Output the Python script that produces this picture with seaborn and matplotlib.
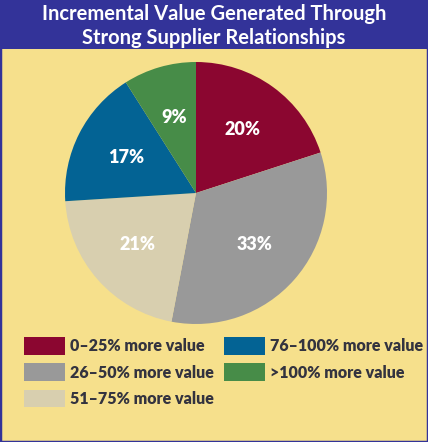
import numpy as np
import pandas as pd
import matplotlib
matplotlib.use("Agg")
import matplotlib.pyplot as plt
import seaborn as sns
from matplotlib.patches import Rectangle, Patch

# data
categories = ["0–25% more value", "26–50% more value", "51–75% more value",
              "76–100% more value", ">100% more value"]
shares = [20, 33, 21, 17, 9]
colors = ["#8B0630", "#999999", "#D8CFAF", "#036394", "#478C48"]
title = "Incremental Value Generated Through\nStrong Supplier Relationships"

sns.set_theme(style="white")
plt.rcParams['font.family'] = ['Lato', 'DejaVu Sans']

W, H = 428, 442
bg = "#F6E08C"
navy = "#333399"

fig = plt.figure(figsize=(W / 100, H / 100), dpi=100, facecolor=bg)

# title bar + frame
fig.patches.append(Rectangle((0, 1 - 49 / H), 1, 49 / H, transform=fig.transFigure,
                             facecolor=navy, edgecolor="none", zorder=0))
fig.patches.append(Rectangle((0, 0), 1, 1, transform=fig.transFigure,
                             facecolor="none", edgecolor=navy, linewidth=2.5, zorder=5))
fig.text(0.5, 1 - 26 / H, title, ha="center", va="center", color="white",
         fontsize=14.5, fontweight="bold", linespacing=1.2)

# pie
cx, cy, r = 196, 193, 131
ax = fig.add_axes([(cx - r) / W, (H - cy - r) / H, 2 * r / W, 2 * r / H])
df = pd.DataFrame({"category": categories, "share": shares})
wedges, texts, autotexts = ax.pie(df["share"], colors=colors, startangle=90,
                                  counterclock=False, radius=1,
                                  autopct=lambda p: f"{p:.0f}%", pctdistance=0.6,
                                  wedgeprops=dict(linewidth=0))
for t in autotexts:
    t.set_color("white")
    t.set_fontsize(13)
    t.set_fontweight("heavy")
ax.set_xlim(-1, 1)
ax.set_ylim(-1, 1)
ax.set_axis_off()

# legend
handles = [Patch(facecolor=c, edgecolor="none") for c in colors]
fig.legend(handles, categories, loc="upper left",
           bbox_to_anchor=(24 / W, 1 - 337 / H), ncol=2, frameon=False,
           handlelength=2.56, handleheight=1.31, handletextpad=0.31,
           labelspacing=0.56, columnspacing=0.65, borderpad=0, borderaxespad=0,
           prop=dict(weight="heavy", size=11.5))
for t in fig.legends[0].get_texts():
    t.set_color("#33333F")

fig.savefig("out.png", dpi=100, facecolor=bg)
